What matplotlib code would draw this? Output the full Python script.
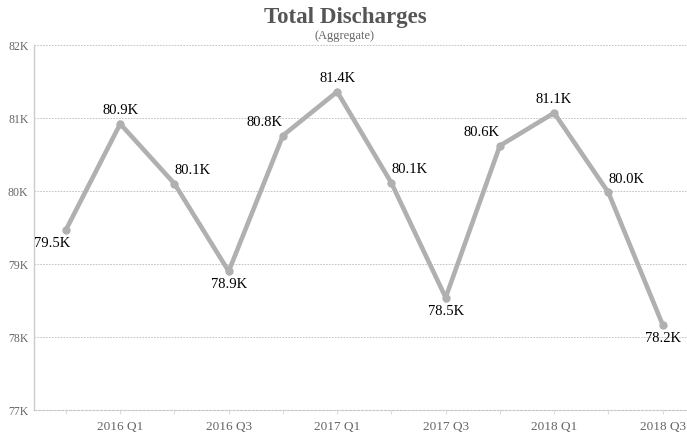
import matplotlib
matplotlib.use("Agg")
import matplotlib.pyplot as plt

QUARTERS = ["2015 Q4", "2016 Q1", "2016 Q2", "2016 Q3", "2016 Q4", "2017 Q1",
            "2017 Q2", "2017 Q3", "2017 Q4", "2018 Q1", "2018 Q2", "2018 Q3"]
DISCHARGES_K = [79.47, 80.92, 80.10, 78.90, 80.76, 81.36,
                80.11, 78.54, 80.62, 81.07, 79.98, 78.17]
Y_TICKS = [77, 78, 79, 80, 81, 82]

# where each data label sits relative to its point
LABEL_SIDE = ["below_left", "above", "upper_right", "below", "upper_left", "above",
              "upper_right", "below", "upper_left", "above", "upper_right", "below"]
SIDE_STYLE = {
    "above":       (0, 5, "center", "bottom"),
    "below":       (0, -5, "center", "top"),
    "below_left":  (-10, -5, "center", "top"),
    "upper_right": (0, 5, "left", "bottom"),
    "upper_left":  (0, 5, "right", "bottom"),
}

LINE_COLOR = "#b0b0b0"
AXIS_COLOR = "#cccccc"
TEXT_GRAY  = "#666666"
SERIF = ["Liberation Serif", "DejaVu Serif"]

plt.rcParams["font.family"] = SERIF

fig = plt.figure(figsize=(6.87, 4.36), dpi=100)
ax = fig.add_axes([34 / 687, 1 - 410 / 436, 1 - 34 / 687, (410 - 45) / 436])

x = list(range(len(QUARTERS)))
ax.plot(x, DISCHARGES_K, color=LINE_COLOR, linewidth=3.3, marker="o",
        markersize=5, solid_joinstyle="miter", zorder=3)

for i, v in enumerate(DISCHARGES_K):
    dx, dy, ha, va = SIDE_STYLE[LABEL_SIDE[i]]
    ax.annotate(f"{v:.1f}K", (i, v), xytext=(dx, dy), textcoords="offset points",
                ha=ha, va=va, fontsize=10.5, color="black", zorder=4)

ax.set_xlim(-0.59, 11.45)
ax.set_ylim(77, 82)

ax.set_yticks(Y_TICKS)
ax.set_yticklabels([f"{t}K" for t in Y_TICKS], fontsize=8.5, color=TEXT_GRAY)
ax.set_xticks(x)
ax.set_xticklabels([q if i % 2 == 1 else "" for i, q in enumerate(QUARTERS)],
                   fontsize=9.5, color=TEXT_GRAY)
ax.tick_params(axis="x", length=3, color="#dddddd", pad=5)
ax.tick_params(axis="y", length=0, pad=4)

ax.grid(axis="y", linestyle=(0, (2, 1.5)), color="#bbbbbb", linewidth=0.6)
ax.set_axisbelow(True)

for side in ["top", "right"]:
    ax.spines[side].set_visible(False)
ax.spines["left"].set_color(AXIS_COLOR)
ax.spines["left"].set_linewidth(1.0)
ax.spines["bottom"].set_color("#c8c8c8")
ax.spines["bottom"].set_linestyle((0, (2, 1.5)))
ax.spines["bottom"].set_linewidth(0.8)

fig.text(0.502, 0.960, "Total Discharges", ha="center", va="center",
         fontsize=16.5, fontweight="bold", color="#555555")
fig.text(0.502, 0.918, "(Aggregate)", ha="center", va="center",
         fontsize=9, color=TEXT_GRAY)

fig.savefig("out.png", dpi=100)
